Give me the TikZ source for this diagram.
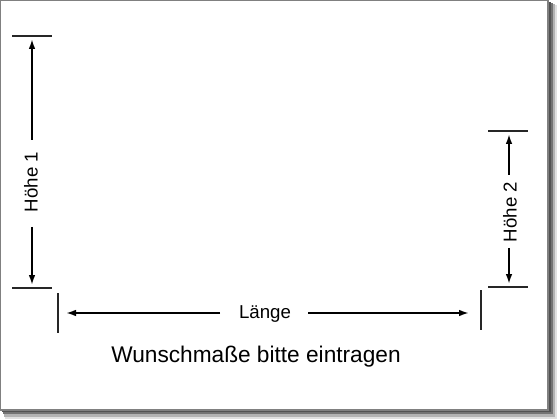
\documentclass[tikz,border=0pt]{standalone}
\usepackage{fontspec}
\setmainfont{Liberation Sans}
\usetikzlibrary{arrows.meta}
\begin{document}
\begin{tikzpicture}[x=0.75pt,y=-0.75pt,
  tickline/.style={line width=0.8pt, black!85},
  dimline/.style={line width=1.4pt, -{Latex[length=7.5pt,width=5pt]}},
  lbl/.style={font=\fontsize{14}{16}\selectfont, inner sep=0pt},
  bigl/.style={font=\fontsize{17}{20}\selectfont, inner sep=0pt}]
\useasboundingbox (0,0) rectangle (560,420);
\fill[white] (0,0) rectangle (560,420);
% shadow
\fill[black!12] (5,5) rectangle (557,419);
\fill[black!30] (4,4) rectangle (555,417);
\fill[black!55] (3,3) rectangle (553,414);
\fill[black!68] (2,2) rectangle (551,412);
% panel
\filldraw[fill=white, draw=black!50, line width=1pt] (0.7,0.7) rectangle (548,410);

% Hoehe 1
\draw[tickline] (12,36) -- (52,36);
\draw[tickline] (12,288) -- (52,288);
\node[lbl, rotate=90] (h1) at (31,182) {Höhe 1};
\coordinate (h1a) at (32,140);
\coordinate (h1b) at (32,227);
\coordinate (h1t) at (32,39);
\coordinate (h1u) at (32,285);
\draw[dimline] (h1a) -- (h1t);
\draw[dimline] (h1b) -- (h1u);

% Hoehe 2
\draw[tickline] (488,131) -- (528,131);
\draw[tickline] (488,287) -- (528,287);
\node[lbl, rotate=90] (h2) at (510,212) {Höhe 2};
\coordinate (h2a) at (509,175);
\coordinate (h2b) at (509,248);
\coordinate (h2t) at (509,134);
\coordinate (h2u) at (509,284);
\draw[dimline] (h2a) -- (h2t);
\draw[dimline] (h2b) -- (h2u);

% Laenge
\draw[tickline] (58,293) -- (58,333);
\draw[tickline] (481,290) -- (481,330);
\node[lbl, anchor=base] (len) at (265,318) {Länge};
\coordinate (la) at (220,313);
\coordinate (lb) at (308,313);
\coordinate (lt) at (66,313);
\coordinate (lu) at (469,313);
\draw[dimline] (la) -- (lt);
\draw[dimline] (lb) -- (lu);

\node[bigl, anchor=base] (wish) at (256,362) {Wunschmaße bitte eintragen};
\end{tikzpicture}
\end{document}
